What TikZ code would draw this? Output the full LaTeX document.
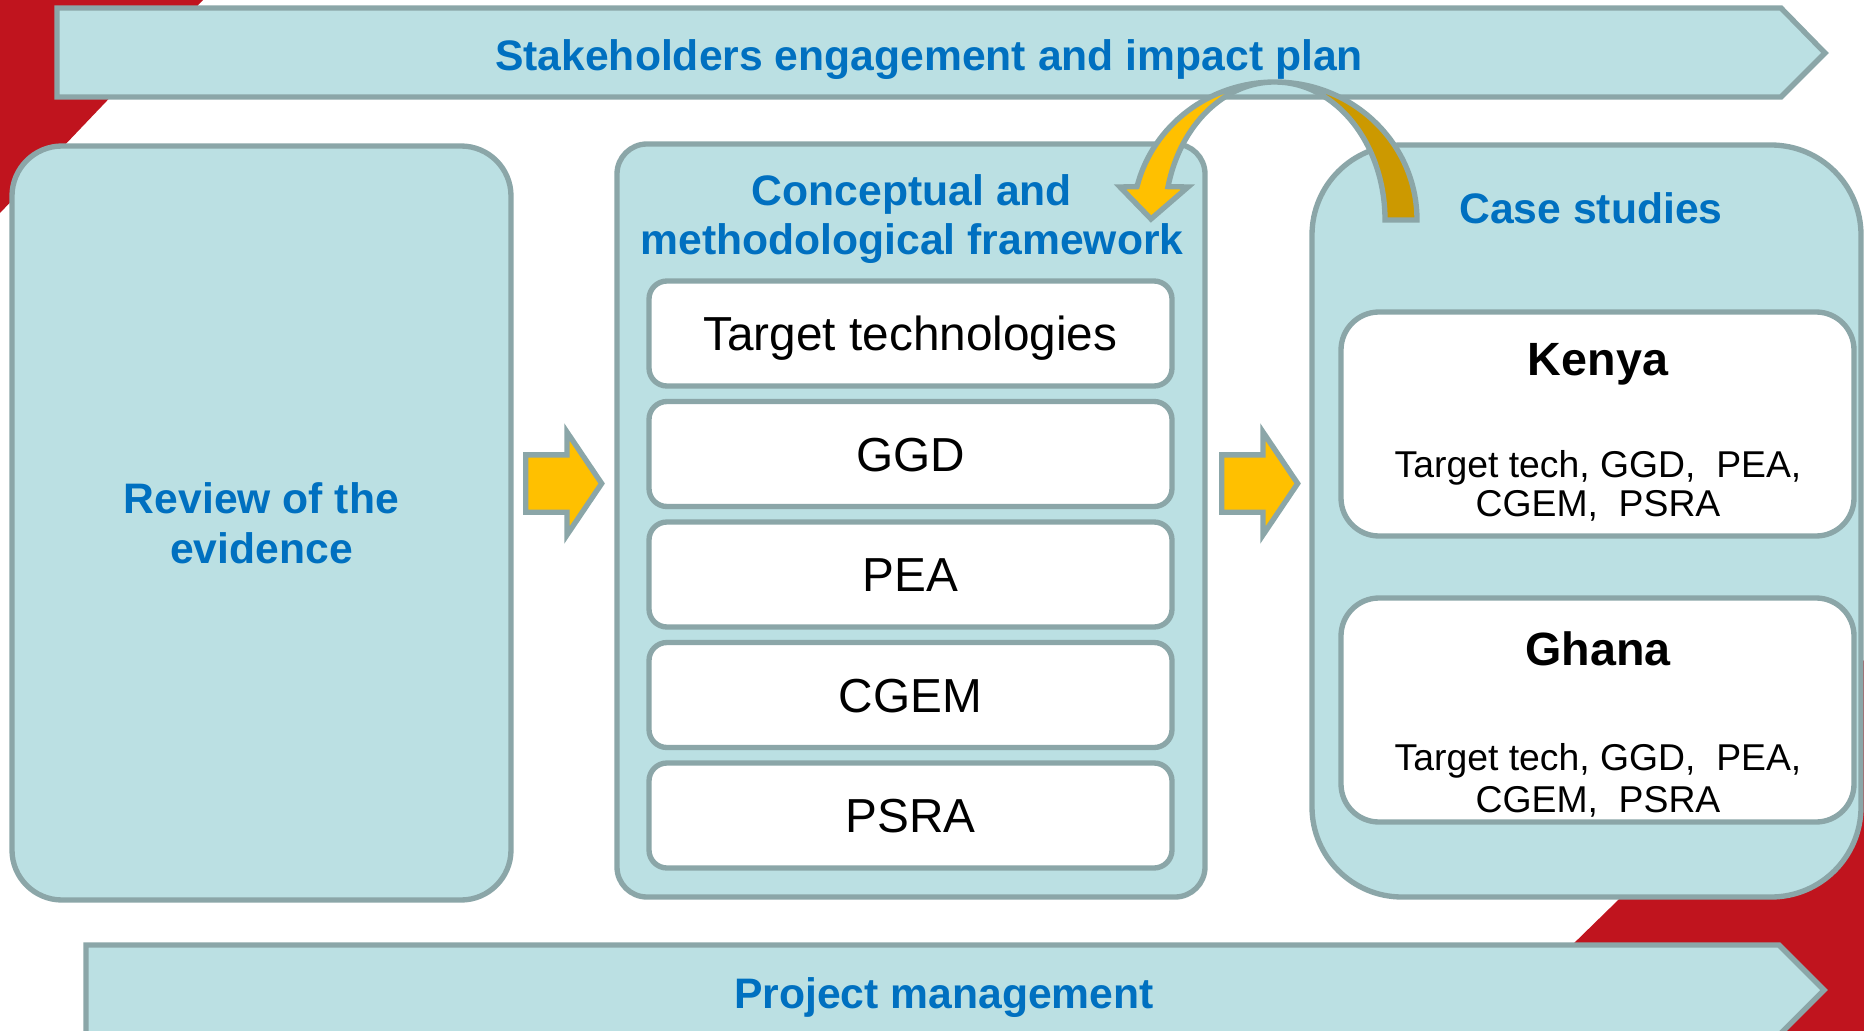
\documentclass[tikz,border=0pt]{standalone}
\usepackage{fontspec}
\setmainfont{Liberation Sans}
\usetikzlibrary{shapes.arrows}
\definecolor{panelblue}{RGB}{187,224,227}
\definecolor{bordergray}{RGB}{139,166,168}
\definecolor{textblue}{RGB}{0,112,192}
\definecolor{redbg}{RGB}{192,20,30}
\definecolor{gold}{RGB}{255,192,0}
\definecolor{darkgold}{RGB}{204,153,0}
\begin{document}
\begin{tikzpicture}[x=0.75pt,y=-0.75pt,
  panel/.style={draw=bordergray, line width=4pt, fill=panelblue, inner sep=0pt},
  banner/.style={draw=bordergray, line width=4pt, fill=panelblue},
  titletext/.style={font=\fontsize{32}{37.5}\selectfont\bfseries, text=textblue, inner sep=0pt},
  itembox/.style={draw=bordergray, line width=4pt, fill=white, inner sep=0pt,
    rounded corners=13.5pt, minimum width=392.25pt, minimum height=78.75pt,
    font=\fontsize{35.8}{42}\selectfont, text height=25.5pt, text depth=0pt},
  countrybox/.style={draw=bordergray, line width=4pt, fill=white, inner sep=0pt,
    rounded corners=28.5pt, minimum width=384.75pt, minimum height=168pt},
  headtext/.style={font=\fontsize{35}{42}\selectfont\bfseries, inner sep=0pt},
  listtext/.style={font=\fontsize{28}{29}\selectfont, inner sep=0pt},
  blockarrow/.style={single arrow, draw=bordergray, line width=4pt, fill=gold,
    inner xsep=0pt, inner ysep=19.5pt, minimum height=57pt,
    single arrow head extend=17pt, single arrow tip angle=112},
  curvearrow/.style={draw=bordergray, line width=4pt}
]
\useasboundingbox (0,0) rectangle (1864,1031);
\fill[white] (0,0) rectangle (1864,1031);
% red background corners
\fill[redbg] (0,0) -- (203,0) -- (0,213) -- cycle;
\fill[redbg] (1864,660) -- (1864,1031) -- (1484,1031) -- cycle;

% top banner
\draw[banner] (57,8) -- (1781,8) -- (1825,53) -- (1781,97) -- (57,97) -- cycle;
\node[titletext, anchor=base] (stake) at (929,70) {Stakeholders engagement and impact plan};

% bottom banner
\draw[banner] (86,945) -- (1779,945) -- (1824,990) -- (1779,1035) -- (86,1035) -- cycle;
\node[titletext, anchor=base] (pm) at (944,1008) {Project management};

% left panel
\node[panel, minimum width=374.25pt, minimum height=565.5pt, rounded corners=37.5pt,
  font=\fontsize{32}{37.5}\selectfont\bfseries, text=textblue, align=center]
  (review) at (261.5,523) {Review of the\\evidence};

% centre panel
\node[panel, minimum width=441pt, minimum height=564.75pt, rounded corners=22.5pt]
  (framework) at (911,520.5) {};
\node[titletext, anchor=base] (fw1) at (912,205) {Conceptual and};
\node[titletext, anchor=base] (fw2) at (912,254) {methodological framework};
\node[itembox] (tt) at (910.5,333.5) {Target technologies};
\node[itembox] (ggd) at (910.5,454) {GGD};
\node[itembox] (pea) at (910.5,574.5) {PEA};
\node[itembox] (cgem) at (910.5,695) {CGEM};
\node[itembox] (psra) at (910.5,815.5) {PSRA};

% right panel
\node[panel, minimum width=411.75pt, minimum height=564pt, rounded corners=67.5pt]
  (cases) at (1586.5,521) {};
\node[titletext, anchor=base] (cs) at (1591,223) {Case studies};
\node[countrybox] (kenya) at (1597.5,424) {};
\node[headtext, anchor=base] (kenyah) at (1598,375) {Kenya};
\node[listtext, anchor=base] (kenya1) at (1598,477) {Target tech, GGD,\ \ PEA,};
\node[listtext, anchor=base] (kenya2) at (1598,516) {CGEM,\ \ PSRA};
\node[countrybox] (ghana) at (1597.5,710) {};
\node[headtext, anchor=base] (ghanah) at (1598,665) {Ghana};
\node[listtext, anchor=base] (ghana1) at (1598,770) {Target tech, GGD,\ \ PEA,};
\node[listtext, anchor=base] (ghana2) at (1598,812) {CGEM,\ \ PSRA};

% block arrows
\node[blockarrow, anchor=tail] (arrowA) at (523,483.5) {};
\node[blockarrow, anchor=tail] (arrowB) at (1219,483.5) {};

% curved arrow from case studies back to framework
\draw[curvearrow, fill=darkgold] (1417,220)
  arc[start angle=0, end angle=-90, x radius=142, y radius=138]
  arc[start angle=-90, end angle=0, x radius=110, y radius=138] -- cycle;
\draw[curvearrow, fill=gold] (1137,186.6)
  arc[start angle=194, end angle=270, x radius=142, y radius=138]
  arc[start angle=270, end angle=194, x radius=110, y radius=138]
  -- (1188,187) -- (1151,219) -- (1120,187) -- cycle;
\end{tikzpicture}
\end{document}
